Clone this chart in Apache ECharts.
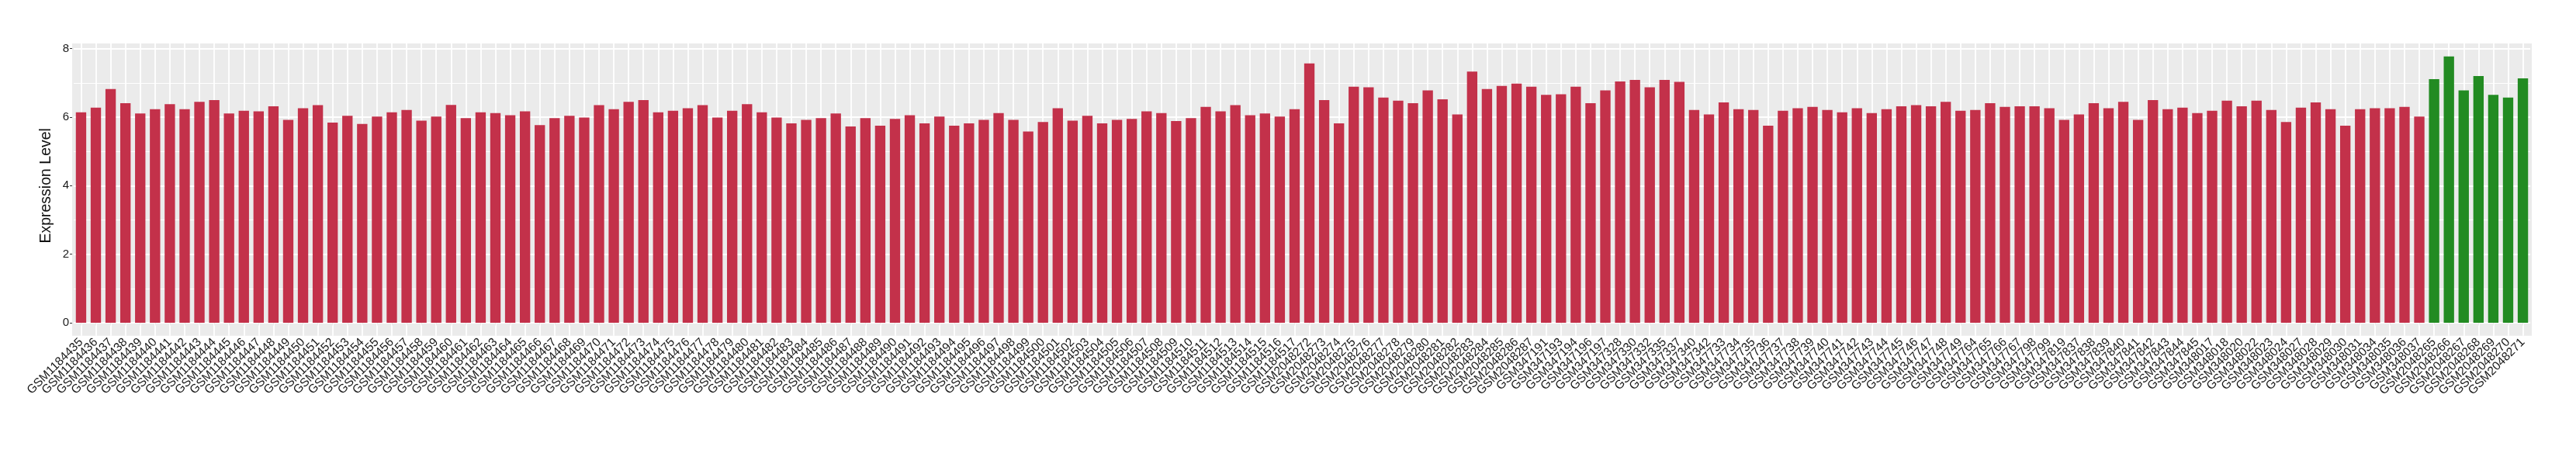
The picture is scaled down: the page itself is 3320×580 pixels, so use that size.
<!DOCTYPE html>
<html>
<head>
<meta charset="utf-8">
<title>Expression Level</title>
<script src="https://cdn.jsdelivr.net/npm/echarts@6/dist/echarts.min.js"></script>
<style>
  html, body { margin: 0; padding: 0; background: #fff; }
  #chart { width: 3320px; height: 580px; }
</style>
</head>
<body>
<div id="chart"></div>
<script>
// sample names, in plot order
const samples = [
  'GSM1184435', 'GSM1184436', 'GSM1184437', 'GSM1184438', 'GSM1184439', 'GSM1184440', 'GSM1184441', 'GSM1184442',
  'GSM1184443', 'GSM1184444', 'GSM1184445', 'GSM1184446', 'GSM1184447', 'GSM1184448', 'GSM1184449', 'GSM1184450',
  'GSM1184451', 'GSM1184452', 'GSM1184453', 'GSM1184454', 'GSM1184455', 'GSM1184456', 'GSM1184457', 'GSM1184458',
  'GSM1184459', 'GSM1184460', 'GSM1184461', 'GSM1184462', 'GSM1184463', 'GSM1184464', 'GSM1184465', 'GSM1184466',
  'GSM1184467', 'GSM1184468', 'GSM1184469', 'GSM1184470', 'GSM1184471', 'GSM1184472', 'GSM1184473', 'GSM1184474',
  'GSM1184475', 'GSM1184476', 'GSM1184477', 'GSM1184478', 'GSM1184479', 'GSM1184480', 'GSM1184481', 'GSM1184482',
  'GSM1184483', 'GSM1184484', 'GSM1184485', 'GSM1184486', 'GSM1184487', 'GSM1184488', 'GSM1184489', 'GSM1184490',
  'GSM1184491', 'GSM1184492', 'GSM1184493', 'GSM1184494', 'GSM1184495', 'GSM1184496', 'GSM1184497', 'GSM1184498',
  'GSM1184499', 'GSM1184500', 'GSM1184501', 'GSM1184502', 'GSM1184503', 'GSM1184504', 'GSM1184505', 'GSM1184506',
  'GSM1184507', 'GSM1184508', 'GSM1184509', 'GSM1184510', 'GSM1184511', 'GSM1184512', 'GSM1184513', 'GSM1184514',
  'GSM1184515', 'GSM1184516', 'GSM1184517',
  'GSM2048272', 'GSM2048273', 'GSM2048274', 'GSM2048275', 'GSM2048276', 'GSM2048277', 'GSM2048278', 'GSM2048279',
  'GSM2048280', 'GSM2048281', 'GSM2048282', 'GSM2048283', 'GSM2048284', 'GSM2048285', 'GSM2048286', 'GSM2048287',
  'GSM347191', 'GSM347193', 'GSM347194', 'GSM347196', 'GSM347197',
  'GSM347328', 'GSM347330', 'GSM347332', 'GSM347335', 'GSM347337', 'GSM347340', 'GSM347342',
  'GSM347733', 'GSM347734', 'GSM347735', 'GSM347736', 'GSM347737', 'GSM347738', 'GSM347739', 'GSM347740',
  'GSM347741', 'GSM347742', 'GSM347743', 'GSM347744', 'GSM347745', 'GSM347746', 'GSM347747', 'GSM347748',
  'GSM347749', 'GSM347764', 'GSM347765', 'GSM347766', 'GSM347767', 'GSM347798', 'GSM347799', 'GSM347819',
  'GSM347837', 'GSM347838', 'GSM347839', 'GSM347840', 'GSM347841', 'GSM347842', 'GSM347843', 'GSM347844',
  'GSM347845',
  'GSM348017', 'GSM348018', 'GSM348020', 'GSM348022', 'GSM348023', 'GSM348024', 'GSM348027', 'GSM348028',
  'GSM348029', 'GSM348030', 'GSM348031', 'GSM348034', 'GSM348035', 'GSM348036', 'GSM348037',
  'GSM2048265', 'GSM2048266', 'GSM2048267', 'GSM2048268', 'GSM2048269', 'GSM2048270', 'GSM2048271'
]

const expression = [
  6.14, 6.28, 6.82, 6.41, 6.11, 6.23, 6.38, 6.23,
  6.45, 6.50, 6.11, 6.19, 6.17, 6.32, 5.92, 6.26,
  6.35, 5.84, 6.04, 5.80, 6.02, 6.14, 6.21, 5.90,
  6.02, 6.36, 5.97, 6.14, 6.12, 6.06, 6.17, 5.77,
  5.97, 6.04, 5.99, 6.35, 6.23, 6.45, 6.50, 6.14,
  6.19, 6.26, 6.35, 5.99, 6.19, 6.38, 6.14, 5.99,
  5.82, 5.92, 5.97, 6.11, 5.73, 5.97, 5.75, 5.95,
  6.06, 5.82, 6.02, 5.75, 5.82, 5.92, 6.12, 5.92,
  5.58, 5.86, 6.26, 5.90, 6.04, 5.82, 5.92, 5.95,
  6.17, 6.12, 5.89, 5.97, 6.30, 6.17, 6.35, 6.06,
  6.11, 6.02, 6.23,
  7.57, 6.50, 5.82, 6.89, 6.87, 6.57, 6.48, 6.41,
  6.78, 6.52, 6.08, 7.33, 6.82, 6.91, 6.98, 6.89,
  6.65, 6.67, 6.89, 6.41, 6.78,
  7.04, 7.09, 6.87, 7.09, 7.03, 6.21, 6.08,
  6.43, 6.23, 6.21, 5.75, 6.19, 6.26, 6.30, 6.21,
  6.14, 6.26, 6.12, 6.23, 6.32, 6.35, 6.32, 6.45,
  6.19, 6.21, 6.41, 6.30, 6.32, 6.32, 6.26, 5.92,
  6.08, 6.41, 6.26, 6.45, 5.92, 6.50, 6.23, 6.28,
  6.12,
  6.19, 6.48, 6.32, 6.48, 6.21, 5.86, 6.28, 6.43,
  6.23, 5.75, 6.23, 6.26, 6.26, 6.30, 6.02,
  7.11, 7.77, 6.78, 7.20, 6.65, 6.57, 7.13
]

// samples drawn in green, all the others are red
const greenSamples = ['GSM2048265', 'GSM2048266', 'GSM2048267', 'GSM2048268', 'GSM2048269', 'GSM2048270', 'GSM2048271']

const yTicks = [0, 2, 4, 6, 8]

const RED = '#c3314a'
const GREEN = '#228b22'
const FONT = 'Liberation Sans, Arial, sans-serif'

// grey panel (ggplot style), in px
const panel = { left: 93, top: 56, width: 3170, height: 376.7 }
const zeroY = 416 // y of value 0
const topY = 62.7 // y of value 8
const band = panel.width / (samples.length + 0.2)
const gridLeft = panel.left + 0.1 * band
const gridRight = 3320 - (panel.left + panel.width) + 0.1 * band
const axisOffset = panel.top + panel.height - zeroY

const chart = echarts.init(document.getElementById('chart'))

const option = {
  animation: false,
  backgroundColor: '#fff',
  textStyle: { fontFamily: FONT },
  graphic: [{
    type: 'rect',
    z: -10,
    silent: true,
    shape: { x: panel.left, y: panel.top, width: panel.width, height: panel.height },
    style: { fill: '#ebebeb' }
  }],
  grid: {
    left: gridLeft,
    right: gridRight,
    top: topY,
    bottom: 580 - zeroY,
    containLabel: false,
    outerBoundsMode: 'none'
  },
  xAxis: [{
    type: 'category',
    data: samples,
    offset: axisOffset,
    axisLine: { show: false },
    axisTick: { show: true, alignWithLabel: true, interval: 0, length: 3.5, lineStyle: { color: '#333', width: 1 } },
    axisLabel: {
      interval: 0,
      rotate: 45,
      margin: 6,
      fontSize: 15.5,
      color: '#1a1a1a',
      fontFamily: FONT
    },
    splitLine: { show: false }
  }, {
    // white vertical grid lines through the bar centres
    type: 'category',
    data: samples,
    position: 'bottom',
    offset: axisOffset,
    axisLine: { show: false },
    axisLabel: { show: false },
    axisTick: { show: true, inside: true, alignWithLabel: true, interval: 0, length: panel.height, lineStyle: { color: '#fff', width: 1.8 } },
    splitLine: { show: false }
  }],
  yAxis: {
    type: 'value',
    min: yTicks[0],
    max: yTicks[yTicks.length - 1],
    interval: yTicks[1] - yTicks[0],
    offset: gridLeft - panel.left,
    name: 'Expression Level',
    nameLocation: 'middle',
    nameGap: 20,
    nameTextStyle: { fontSize: 19.5, color: '#111', fontFamily: FONT },
    axisLine: { show: false },
    axisTick: { show: true, length: 3, lineStyle: { color: '#333', width: 1 } },
    axisLabel: { fontSize: 15, color: '#1a1a1a', margin: 4, fontFamily: FONT },
    splitLine: { show: true, lineStyle: { color: '#fff', width: 2 } },
    minorTick: { show: false, splitNumber: 2 },
    minorSplitLine: { show: true, lineStyle: { color: '#fff', width: 1 } }
  },
  series: [{
    type: 'bar',
    xAxisIndex: 0,
    barWidth: '70%',
    data: expression.map((v, i) => ({
      value: v,
      itemStyle: { color: greenSamples.includes(samples[i]) ? GREEN : RED }
    }))
  }]
}

chart.setOption(option)
</script>
</body>
</html>
